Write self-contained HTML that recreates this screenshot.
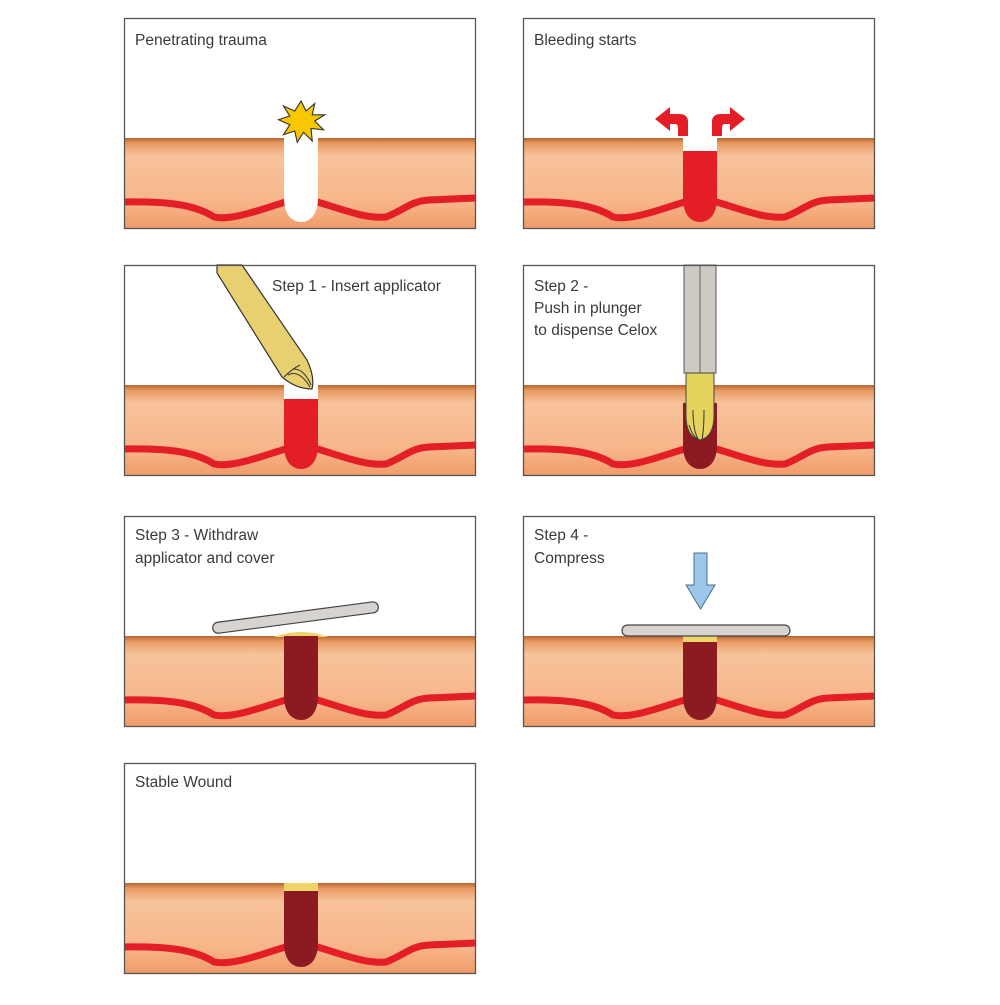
<!DOCTYPE html>
<html><head><meta charset="utf-8"><style>
body{margin:0;background:#fff}
text{font-family:"Liberation Sans",sans-serif;font-size:15.5px;fill:#3a3a3a}
</style></head><body>
<svg width="1000" height="1000" viewBox="0 0 1000 1000" xmlns="http://www.w3.org/2000/svg">
<defs>
<linearGradient id="sk" x1="0" y1="0" x2="0" y2="1">
<stop offset="0" stop-color="#b8642e"/><stop offset="0.06" stop-color="#e89a62"/><stop offset="0.2" stop-color="#f7c39a"/><stop offset="0.7" stop-color="#f7b68a"/><stop offset="1" stop-color="#f09a68"/>
</linearGradient>
<g id="base">
<rect x="0" y="0" width="352" height="211" fill="#fff"/>
<rect x="0" y="120" width="352" height="91" fill="url(#sk)"/>
<path d="M0,184 C40,183 70,186 90,199 C110,203 140,190 165,183 M190,183 C215,190 240,201 262,199 C280,192 287,183 305,182 L352,180" fill="none" stroke="#e41e26" stroke-width="7"/>
</g>
<path id="wound" d="M160,120 L160,180 C160,198 169,204 177,204 C185,204 194,198 194,180 L194,120 Z"/>
</defs>

<!-- Panel 1 -->
<g transform="translate(124,18)">
<use href="#base"/>
<use href="#wound" fill="#fff"/>
<g transform="translate(177,103) scale(1.25) translate(-177,-104)">
<polygon fill="#f7c800" stroke="#333" stroke-width="0.9" points="177,88 181,96 188,90 186,99 196,99 188,104 195,111 185,110 186,120 179,113 174,121 172,112 163,115 168,107 159,103 168,100 163,92 172,96"/>
</g>
<rect x="0.5" y="0.5" width="351" height="210" fill="none" stroke="#555" stroke-width="1.3"/>
<text x="11" y="27">Penetrating trauma</text>
</g>

<!-- Panel 2 -->
<g transform="translate(523,18)">
<use href="#base"/>
<use href="#wound" fill="#e41e26"/>
<rect x="160" y="120" width="34" height="13" fill="#fff"/>
<path d="M165,118 L165,104 Q165,96 156,96 L147,96 L147,89 L132,101 L147,113 L147,106 L152,106 Q155,106 155,110 L155,118 Z" fill="#e41e26"/>
<path d="M189,118 L189,104 Q189,96 198,96 L207,96 L207,89 L222,101 L207,113 L207,106 L202,106 Q199,106 199,110 L199,118 Z" fill="#e41e26"/>
<rect x="0.5" y="0.5" width="351" height="210" fill="none" stroke="#555" stroke-width="1.3"/>
<text x="11" y="27">Bleeding starts</text>
</g>

<!-- Panel 3 -->
<g transform="translate(124,265)">
<use href="#base"/>
<use href="#wound" fill="#e41e26"/>
<rect x="160" y="120" width="34" height="14" fill="#fff"/>
<path d="M93,0 L118,0 L183,95 Q191,112 188,124 Q172,124 158,112 L93,8 Z" fill="#e8d070" stroke="#333" stroke-width="1.2"/>
<path d="M164,110 Q175,104 186,122 M170,104 Q180,104 187,120 M160,112 Q168,104 176,100" fill="none" stroke="#333" stroke-width="1"/>
<rect x="0.5" y="0.5" width="351" height="210" fill="none" stroke="#555" stroke-width="1.3"/>
<text x="148" y="26">Step 1 - Insert applicator</text>
</g>

<!-- Panel 4 -->
<g transform="translate(523,265)">
<use href="#base"/>
<path d="M160,138 L160,180 C160,198 169,204 177,204 C185,204 194,198 194,180 L194,138 Z" fill="#8b1a22"/>
<rect x="161" y="0" width="32" height="108" fill="#cfc9c3" stroke="#555" stroke-width="1"/>
<line x1="177" y1="0" x2="177" y2="108" stroke="#666" stroke-width="1"/>
<path d="M163,108 L191,108 L191,150 Q191,172 177,175 Q163,172 163,150 Z" fill="#e6d35e" stroke="#444" stroke-width="1"/>
<path d="M170,145 Q170,165 175,174 M181,145 Q181,165 179,174 M166,160 Q170,172 176,175" fill="none" stroke="#333" stroke-width="1"/>
<rect x="0.5" y="0.5" width="351" height="210" fill="none" stroke="#555" stroke-width="1.3"/>
<text x="11" y="26">Step 2 -</text>
<text x="11" y="48">Push in plunger</text>
<text x="11" y="70">to dispense Celox</text>
</g>

<!-- Panel 5 -->
<g transform="translate(124,516)">
<use href="#base"/>
<path d="M150,121 Q177,111 204,121 Z" fill="#eed56a"/>
<use href="#wound" fill="#8b1a22"/>
<rect x="0" y="0" width="167" height="11" rx="5.5" transform="translate(88,107) rotate(-7.5)" fill="#d6d3d0" stroke="#444" stroke-width="1.2"/>
<rect x="0.5" y="0.5" width="351" height="210" fill="none" stroke="#555" stroke-width="1.3"/>
<text x="11" y="24">Step 3 - Withdraw</text>
<text x="11" y="47">applicator and cover</text>
</g>

<!-- Panel 6 -->
<g transform="translate(523,516)">
<use href="#base"/>
<rect x="160" y="120" width="34" height="6" fill="#eed56a"/>
<path d="M160,126 L160,180 C160,198 169,204 177,204 C185,204 194,198 194,180 L194,126 Z" fill="#8b1a22"/>
<rect x="99" y="109" width="168" height="11" rx="5.5" fill="#d6d3d0" stroke="#444" stroke-width="1.2"/>
<path d="M171,37 L184,37 L184,69 L192,69 L177.5,93 L163,69 L171,69 Z" fill="#9cc6ea" stroke="#4a6e90" stroke-width="1"/>
<rect x="0.5" y="0.5" width="351" height="210" fill="none" stroke="#555" stroke-width="1.3"/>
<text x="11" y="24">Step 4 -</text>
<text x="11" y="47">Compress</text>
</g>

<!-- Panel 7 -->
<g transform="translate(124,763)">
<use href="#base"/>
<rect x="160" y="120" width="34" height="8" fill="#eed56a"/>
<path d="M160,128 L160,180 C160,198 169,204 177,204 C185,204 194,198 194,180 L194,128 Z" fill="#8b1a22"/>
<rect x="0.5" y="0.5" width="351" height="210" fill="none" stroke="#555" stroke-width="1.3"/>
<text x="11" y="24">Stable Wound</text>
</g>
</svg>
</body></html>
